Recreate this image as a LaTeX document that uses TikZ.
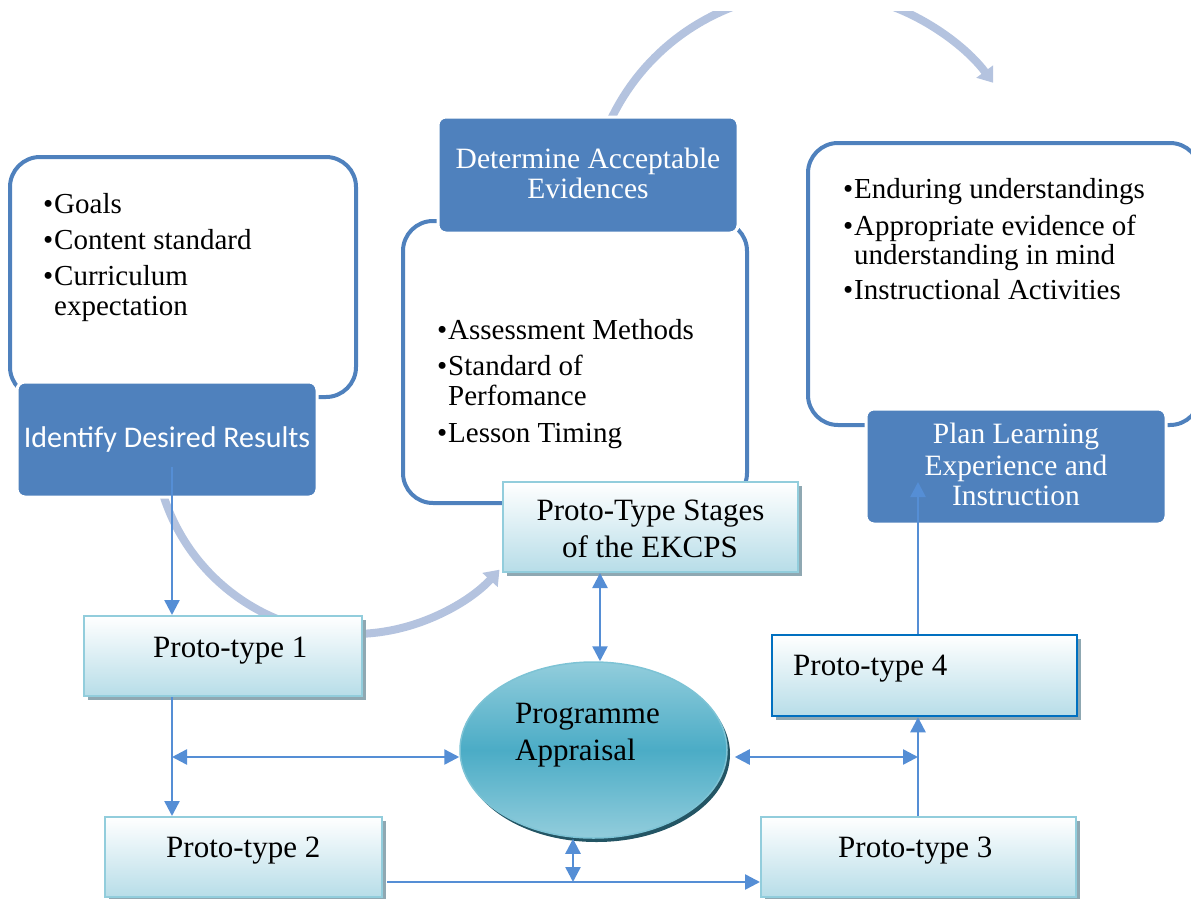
\documentclass[tikz,border=0pt]{standalone}
\usepackage{fontspec}
\setmainfont{Liberation Serif}
\newfontfamily\calib{Carlito}
\usetikzlibrary{arrows.meta,shapes.geometric,shadows}
\definecolor{outc}{RGB}{79,129,189}
\definecolor{darkc}{RGB}{79,129,189}
\definecolor{connc}{RGB}{85,142,213}
\definecolor{lightc}{RGB}{180,195,223}
\definecolor{protoB}{RGB}{183,221,232}
\definecolor{protoE}{RGB}{146,205,220}
\definecolor{shadc}{RGB}{143,168,178}
\definecolor{pfourc}{RGB}{0,112,192}
\definecolor{ellM}{RGB}{75,172,198}
\definecolor{ellL}{RGB}{146,205,220}
\definecolor{ellS}{RGB}{35,85,100}
\newcommand\bul{\makebox[11pt][l]{\textbullet}}
\begin{document}
\begin{tikzpicture}[x=1pt,y=-1pt,
  outline/.style={draw=outc, line width=4pt, rounded corners=30pt, inner sep=0pt},
  darkbox/.style={fill=darkc, draw=white, line width=3pt, rounded corners=8pt, inner sep=0pt},
  protobox/.style={top color=white, bottom color=protoB, draw=protoE, line width=2pt, inner sep=0pt,
    drop shadow={shadow xshift=4pt, shadow yshift=-4pt, fill=shadc, opacity=1}},
  conn/.style={draw=connc, line width=2.5pt},
  >={Triangle[length=15pt,width=15pt]},
  lightarr/.style={draw=lightc, line width=8pt, -{Triangle[length=14pt,width=20pt]}},
  txt/.style={inner sep=0pt, font=\fontsize{29}{31}\selectfont},
  ptxt/.style={inner sep=0pt, font=\fontsize{31}{34}\selectfont},
  wtxt/.style={inner sep=0pt, text=white, font=\fontsize{29.5}{31}\selectfont},
]
\useasboundingbox (0,0) rectangle (1191,899);
\begin{scope}
\clip (0,0) rectangle (1191,899);

% light curved arrows
\begin{scope}
\clip (0,12) rectangle (1191,899);
\draw[lightarr] (813,216) ++(-155:224) arc[start angle=-155, end angle=-36.5, radius=224];
\end{scope}
\draw[lightarr] (353,435) ++(-195:199) arc[start angle=-195, end angle=-317.4, radius=199];

% outline boxes
\node[outline, minimum width=346pt, minimum height=240pt] (outL) at (183,277) {};
\node[outline, minimum width=344pt, minimum height=282pt] (outM) at (575,362) {};
\node[outline, minimum width=392pt, minimum height=282pt] (outR) at (1004,284) {};

% dark header boxes
\node[darkbox, minimum width=300pt, minimum height=115pt] (idbox) at (167,439.5) {};
\node[darkbox, minimum width=300pt, minimum height=116pt] (detbox) at (588,175) {};
\node[darkbox, minimum width=300pt, minimum height=115pt] (planbox) at (1016,466.5) {};

% proto-type boxes
\node[protobox, minimum width=295pt, minimum height=90pt] (stages) at (650.5,527) {};
\node[protobox, minimum width=278pt, minimum height=80pt] (p1) at (223,656) {};
\node[protobox, minimum width=277pt, minimum height=80pt] (p2) at (243.5,857) {};
\node[protobox, minimum width=315pt, minimum height=80pt] (p3) at (918.5,857) {};
\node[protobox, draw=pfourc, line width=2.5pt, minimum width=305pt, minimum height=81pt] (p4) at (924.5,675.5) {};

% ellipse
\node[ellipse, minimum width=267pt, minimum height=176pt, inner sep=0pt,
  top color=ellL, bottom color=ellL, middle color=ellM, draw=ellL!70!ellM, line width=1.5pt,
  drop shadow={shadow xshift=3pt, shadow yshift=-4pt, fill=ellS, opacity=1}] (ell) at (593.5,750) {};

% connector helper coordinates
\coordinate (idout) at (172,467);
\coordinate (j1) at (172,757);
\coordinate (x172) at (172,0);
\coordinate (x600) at (600,0);
\coordinate (x918) at (918,0);
\coordinate (j3) at (918,757);
\coordinate (planin) at (918,482);
\coordinate (b1) at (387,882);
\coordinate (b2) at (573,882);

% connectors
\draw[conn,->] (idout) -- (p1.north -| idout);
\draw[conn,->] (p1.south -| x172) -- (p2.north -| x172);
\draw[conn,<->] (j1) -- (ell.west |- j1);
\draw[conn,<->] (stages.south -| x600) -- (ell.north -| x600);
\draw[conn,<->] ([xshift=7pt]ell.east |- j3) -- (j3);
\draw[conn,->] (p3.north -| x918) -- (p4.south -| x918);
\draw[conn,->] (p4.north -| x918) -- (planin);
\draw[conn,->] (b1) -- (p3.west |- b1);
\draw[conn,<->] (b2) -- (b2 |- ell.south);

% left list
\node[txt, anchor=base west] (l1) at (43,213) {\bul Goals};
\node[txt, anchor=base west] (l2) at (43,249) {\bul Content standard};
\node[txt, anchor=base west] (l3) at (43,285) {\bul Curriculum};
\node[txt, anchor=base west] (l4) at (54,315) {expectation};
% middle list
\node[txt, anchor=base west] (m1) at (437,339) {\bul Assessment Methods};
\node[txt, anchor=base west] (m2) at (437,375) {\bul Standard of};
\node[txt, anchor=base west] (m3) at (448,405) {Perfomance};
\node[txt, anchor=base west] (m4) at (437,442) {\bul Lesson Timing};
% right list
\node[txt, anchor=base west] (r1) at (843,198) {\bul Enduring understandings};
\node[txt, anchor=base west] (r2) at (843,235) {\bul Appropriate evidence of};
\node[txt, anchor=base west] (r3) at (854,264) {understanding in mind};
\node[txt, anchor=base west] (r4) at (843,299) {\bul Instructional Activities};

% header texts
\node[inner sep=0pt, text=white, font=\calib\fontsize{30}{32}\selectfont, anchor=base] (idt) at (167,447) {Identify Desired Results};
\node[wtxt, anchor=base] (dt1) at (588,168) {Determine Acceptable};
\node[wtxt, anchor=base] (dt2) at (588,198) {Evidences};
\node[wtxt, anchor=base] (pt1) at (1016,443) {Plan Learning};
\node[wtxt, anchor=base] (pt2) at (1016,475) {Experience and};
\node[wtxt, anchor=base] (pt3) at (1016,505) {Instruction};

% proto texts
\node[ptxt, anchor=base] (st1) at (650.5,520) {Proto-Type Stages};
\node[ptxt, anchor=base] (st2) at (650,557) {of the EKCPS};
\node[ptxt, anchor=base west] (t1) at (153,657) {Proto-type 1};
\node[ptxt, anchor=base west] (t2) at (166,857) {Proto-type 2};
\node[ptxt, anchor=base west] (t3) at (838,857) {Proto-type 3};
\node[ptxt, anchor=base west] (t4) at (793,675) {Proto-type 4};
\node[ptxt, anchor=base west] (e1) at (515,723) {Programme};
\node[ptxt, anchor=base west] (e2) at (515,760) {Appraisal};
\end{scope}
\end{tikzpicture}
\end{document}
